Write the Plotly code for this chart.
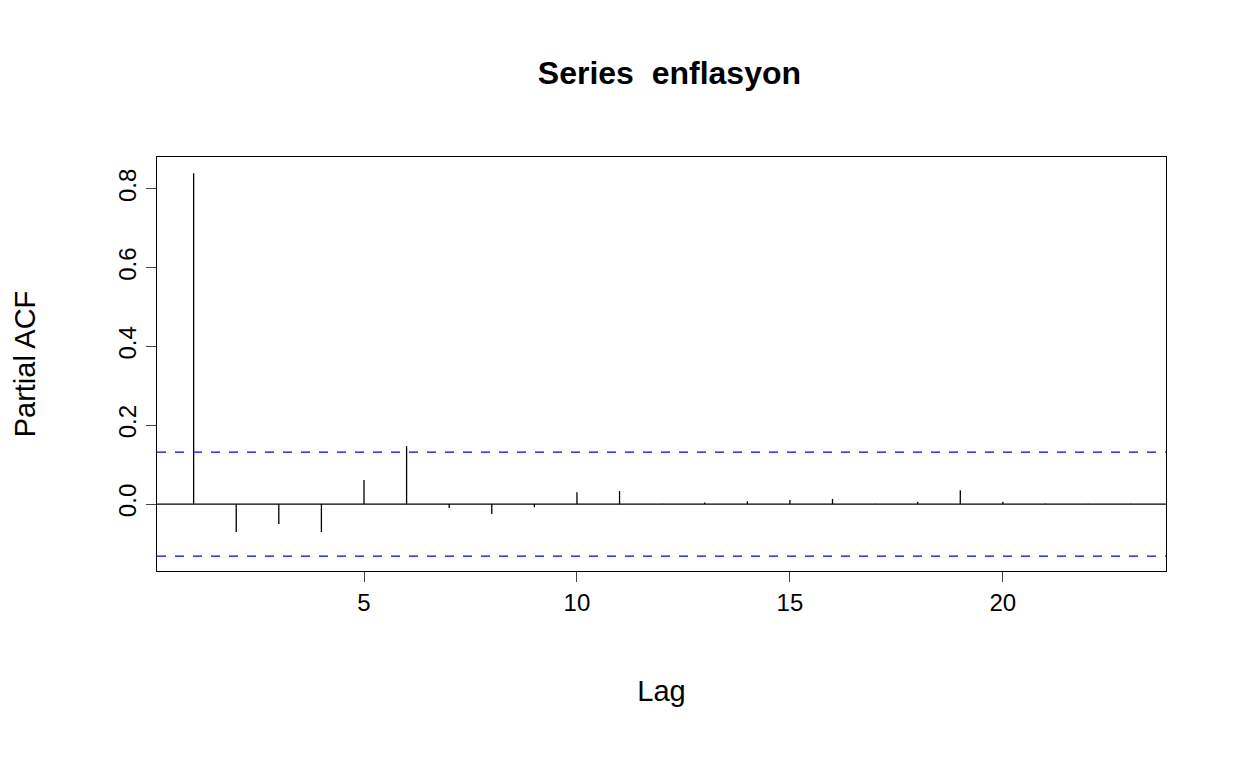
import plotly.graph_objects as go

lags = list(range(1, 24))
pacf = [0.84, -0.071, -0.051, -0.071, 0.061, 0.147, -0.010, -0.025, -0.008, 0.030,
        0.033, 0.001, 0.004, 0.007, 0.010, 0.013, 0.001, 0.006, 0.035, 0.006,
        0.001, 0.001, 0.001]
ci = 0.132

xs, ys = [], []
for l, v in zip(lags, pacf):
    xs += [l, l, None]
    ys += [0, v, None]

fig = go.Figure()
fig.add_trace(go.Scatter(x=xs, y=ys, mode="lines", line=dict(color="black", width=1.3),
                         hoverinfo="skip"))
fig.add_hline(y=0, line=dict(color="black", width=1.3))
for c in (ci, -ci):
    fig.add_hline(y=c, line=dict(color="#0000ee", width=1.3, dash="dash"))

fig.update_layout(
    width=1248, height=768, showlegend=False,
    plot_bgcolor="white", paper_bgcolor="white",
    font=dict(family="Liberation Sans, Arial", size=24, color="black"),
    title=dict(text="<b>Series  enflasyon</b>", x=0.53, y=0.93, xanchor="center",
               font=dict(size=32)),
    margin=dict(l=149, r=90, t=149, b=205),
    xaxis=dict(range=[0.14, 23.83], tickvals=[5, 10, 15, 20], showgrid=False,
               zeroline=False, showline=True, mirror=True, linecolor="black",
               ticks="outside", ticklen=10, title=dict(text="Lag", standoff=65)),
    yaxis=dict(range=[-0.17, 0.881], tickvals=[0.0, 0.2, 0.4, 0.6, 0.8],
               ticktext=["0.0", "0.2", "0.4", "0.6", "0.8"], tickangle=-90,
               showgrid=False, zeroline=False, showline=True, mirror=True,
               linecolor="black", ticks="outside", ticklen=10,
               title=dict(text="Partial ACF", standoff=70)),
)
fig.write_html("out.html")
